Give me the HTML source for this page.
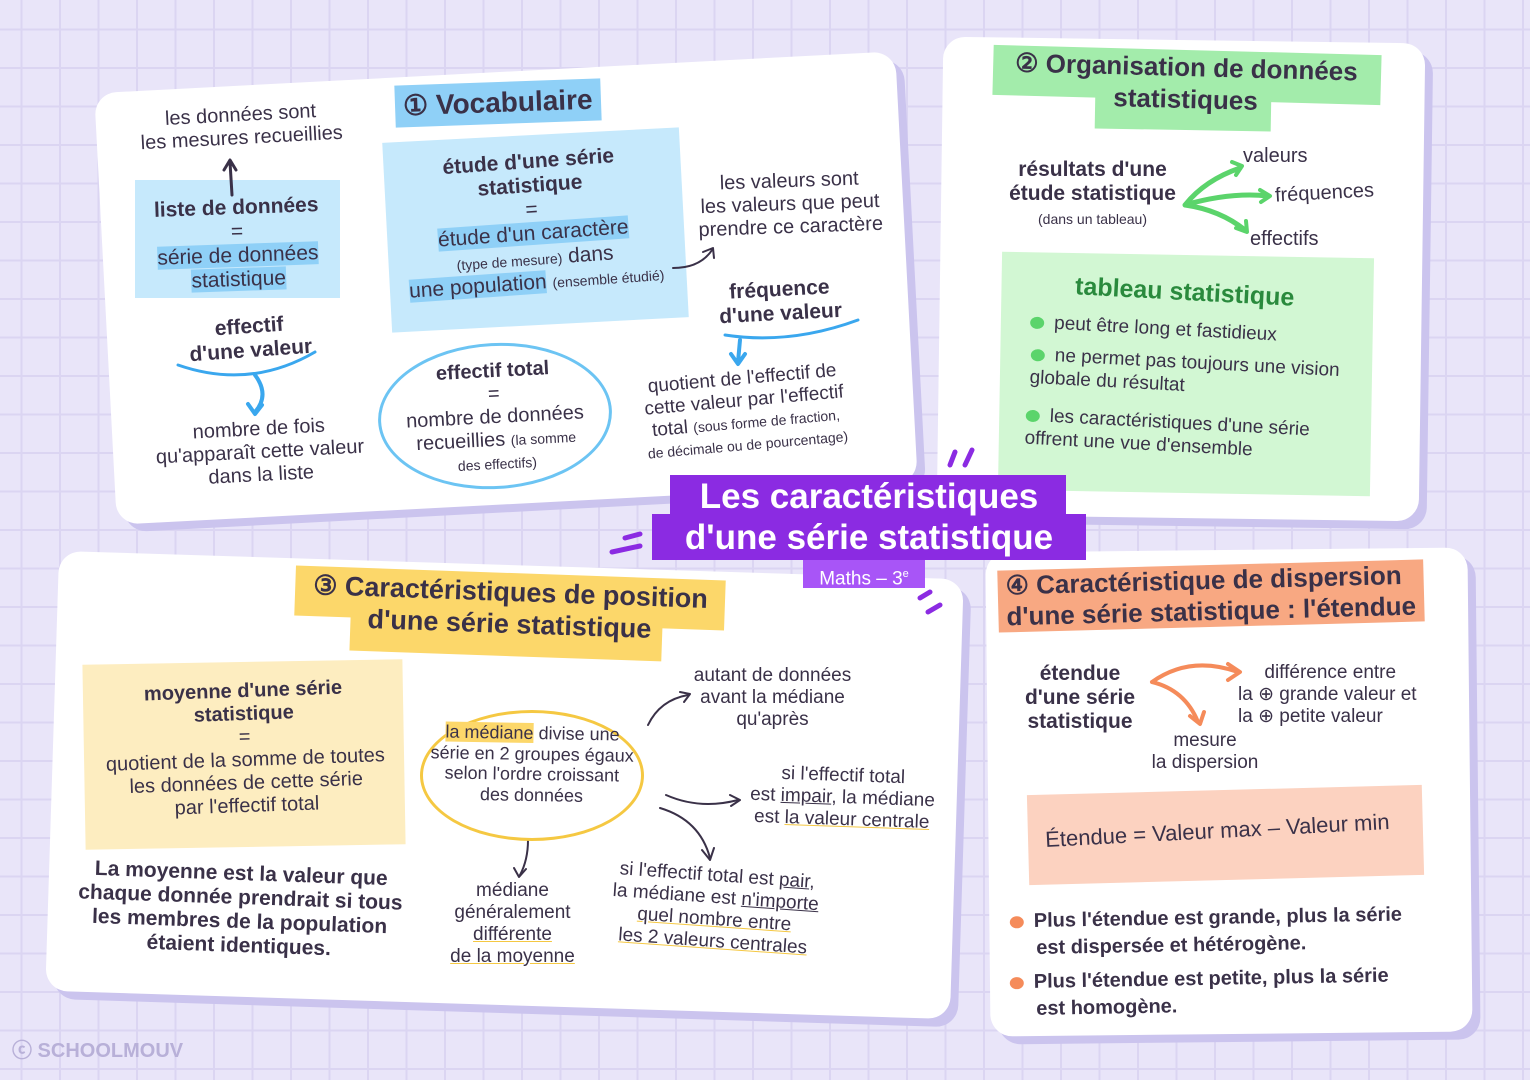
<!DOCTYPE html>
<html><head><meta charset="utf-8"><style>
body{margin:0;width:1530px;height:1080px;overflow:hidden;position:relative;
background-color:#e9e5f9;
background-image:linear-gradient(#dbd5f2 2px,transparent 2px),linear-gradient(90deg,#dbd5f2 2px,transparent 2px);
background-size:38.5px 38.5px;background-position:-18px -10px;
font-family:"Liberation Sans",sans-serif;color:#3a3148}
.card{position:absolute;background:#fff;border-radius:22px;box-shadow:8px 8px 0 #cbc4ee}
.t{position:absolute;text-align:center;white-space:nowrap;line-height:1.15}
.h{font-weight:bold}
.box{position:absolute}
.grid{background-image:linear-gradient(rgba(255,255,255,.5) 1px,transparent 1px),linear-gradient(90deg,rgba(255,255,255,.5) 1px,transparent 1px);background-size:18px 18px}
.pt{display:inline-block;width:14px;height:12px;border-radius:50%;vertical-align:middle;margin-right:10px}
.ttl{position:absolute;font-weight:bold;white-space:nowrap;color:#3a3148;padding:0 8px}
</style></head><body>

<!-- cards -->
<div class="card" style="left:105px;top:72px;width:802px;height:432px;transform:rotate(-3deg)"></div>
<div class="card" style="left:940px;top:40px;width:482px;height:478px;transform:rotate(0.8deg)"></div>
<div class="card" style="left:52px;top:565px;width:905px;height:440px;transform:rotate(1.8deg)"></div>
<div class="card" style="left:988px;top:550px;width:482px;height:484px;transform:rotate(-0.6deg)"></div>

<!-- Card 1 -->
<div class="ttl" style="left:395px;top:82px;background:#8fd0f7;font-size:28px;line-height:42px;transform:rotate(-2deg)">① Vocabulaire</div>
<div class="t" style="left:140px;top:104px;font-size:20px;transform:rotate(-3deg)">les données sont<br>les mesures recueillies</div>
<div class="box grid" style="left:135px;top:180px;width:205px;height:118px;background:#c6e9fc"></div>
<div class="t" style="left:140px;top:196px;width:195px;font-size:21px;transform:rotate(-2deg)"><b>liste de données</b><br>=<br><span style="background:#8fd0f7">série de données<br>statistique</span></div>
<div class="box grid" style="left:387px;top:135px;width:297px;height:190px;background:#c6e9fc;transform:rotate(-3deg)"></div>
<div class="t" style="left:395px;top:150px;width:275px;font-size:21px;transform:rotate(-4deg)"><b>étude d'une série<br>statistique</b><br>=<br><span style="background:#8fd0f7">étude d'un caractère</span><br><span style="font-size:14px">(type de mesure)</span> dans<br><span style="background:#8fd0f7">une population</span> <span style="font-size:14px">(ensemble étudié)</span></div>
<div class="t" style="left:690px;top:170px;width:200px;font-size:20px;transform:rotate(-2deg)">les valeurs sont<br>les valeurs que peut<br>prendre ce caractère</div>
<div class="t h" style="left:170px;top:315px;width:160px;font-size:21px;transform:rotate(-4deg)">effectif<br>d'une valeur</div>
<div class="t" style="left:150px;top:418px;width:220px;font-size:20px;transform:rotate(-3deg)">nombre de fois<br>qu'apparaît cette valeur<br>dans la liste</div>
<div class="box" style="left:378px;top:343px;width:228px;height:140px;border:3px solid #6cc4f3;border-radius:50%;transform:rotate(-3deg)"></div>
<div class="t" style="left:390px;top:360px;width:210px;font-size:20px;transform:rotate(-3deg)"><b>effectif total</b><br>=<br>nombre de données<br>recueillies <span style="font-size:14px">(la somme<br>des effectifs)</span></div>
<div class="t h" style="left:705px;top:278px;width:150px;font-size:21px;transform:rotate(-3deg)">fréquence<br>d'une valeur</div>
<div class="t" style="left:625px;top:368px;width:240px;font-size:19px;transform:rotate(-5deg)">quotient de l'effectif de<br>cette valeur par l'effectif<br>total <span style="font-size:14px">(sous forme de fraction,<br>de décimale ou de pourcentage)</span></div>
<svg class="box" style="left:0;top:0" width="1530" height="1080">
<g fill="none" stroke-width="3" stroke-linecap="round" stroke-linejoin="round">
<path d="M232 195 L230 162 M224 170 L230 160 L236 170" stroke="#3a3148"/>
<path d="M178 365 Q250 390 315 352" stroke="#3aa7ee"/>
<path d="M255 375 Q270 395 255 412 M248 404 L255 414 L262 405" stroke="#3aa7ee" stroke-width="4"/>
<path d="M725 335 Q790 345 858 320" stroke="#3aa7ee"/>
<path d="M740 340 L738 362 M731 354 L738 364 L745 354" stroke="#3aa7ee" stroke-width="4"/>
<path d="M673 268 Q700 268 712 250 M703 252 L713 248 L714 258" stroke="#3a3148" stroke-width="2"/>
<path d="M1185 205 Q1205 180 1240 168 M1185 205 Q1230 192 1268 196 M1185 205 Q1220 210 1245 230" stroke="#5bd46b" stroke-width="5"/>
<path d="M1232 162 L1242 166 L1236 175 M1260 190 L1270 196 L1261 202 M1236 228 L1247 232 L1246 221" stroke="#5bd46b" stroke-width="4"/>
<path d="M1152 682 Q1190 655 1238 672 M1152 682 Q1185 690 1198 722 M1228 664 L1240 672 L1228 680 M1190 716 L1200 724 L1204 712" stroke="#f58b5a" stroke-width="4"/>
<path d="M648 725 Q660 700 688 695 M666 795 Q700 810 738 800 M660 808 Q700 820 710 858 M528 840 Q528 860 520 875" stroke="#3a3148" stroke-width="2"/>
<path d="M680 692 L690 694 L684 702 M730 795 L740 800 L731 806 M702 850 L710 860 L714 848 M514 868 L519 877 L526 869" stroke="#3a3148" stroke-width="2"/>
<path d="M950 465 L955 452 M965 465 L972 450 M612 552 L640 546 M625 538 L640 534 M920 598 L930 592 M928 612 L940 605" stroke="#8b2be2" stroke-width="5"/>
</g></svg>

<!-- Card 2 -->
<div class="box" style="left:993px;top:50px;width:388px;height:50px;background:#a3ecab;transform:rotate(1.5deg)"></div>
<div class="box" style="left:1095px;top:94px;width:176px;height:36px;background:#a3ecab;transform:rotate(1deg)"></div>
<div class="t h" style="left:990px;top:52px;width:392px;font-size:26px;line-height:1.22;transform:rotate(1.5deg)">② Organisation de données<br>statistiques</div>
<div class="t" style="left:995px;top:158px;width:195px;font-size:21px"><b>résultats d'une<br>étude statistique</b><br><span style="font-size:14px">(dans un tableau)</span></div>
<div class="t" style="left:1243px;top:145px;font-size:20px">valeurs</div>
<div class="t" style="left:1275px;top:182px;font-size:20px;transform:rotate(-3deg)">fréquences</div>
<div class="t" style="left:1250px;top:228px;font-size:20px">effectifs</div>
<div class="box grid" style="left:1000px;top:255px;width:372px;height:238px;background:#d2f7d3;transform:rotate(1deg)"></div>
<div class="t h" style="left:1075px;top:278px;font-size:25px;color:#2a8a3d;transform:rotate(3deg)">tableau statistique</div>
<div class="t" style="left:1030px;top:318px;font-size:19px;text-align:left;transform:rotate(3deg);line-height:1.2"><span class="pt" style="background:#5bd46b"></span>peut être long et fastidieux</div>
<div class="t" style="left:1030px;top:352px;font-size:19px;text-align:left;transform:rotate(3deg);line-height:1.2"><span class="pt" style="background:#5bd46b"></span>ne permet pas toujours une vision<br>globale du résultat</div>
<div class="t" style="left:1025px;top:412px;font-size:19px;text-align:left;transform:rotate(3deg);line-height:1.2"><span class="pt" style="background:#5bd46b"></span>les caractéristiques d'une série<br>offrent une vue d'ensemble</div>

<!-- Center -->
<div class="box" style="left:670px;top:475px;width:396px;height:43px;background:#8b2be2"></div>
<div class="box" style="left:652px;top:514px;width:434px;height:46px;background:#8b2be2"></div>
<div class="t h" style="left:652px;top:476px;width:434px;font-size:35px;color:#fff;line-height:41px">Les caractéristiques<br>d'une série statistique</div>
<div class="box" style="left:803px;top:560px;width:122px;height:28px;background:#a855f7;color:#fff;font-size:19px;text-align:center;line-height:28px">Maths – 3<sup style="font-size:11px">e</sup></div>

<!-- Card 3 -->
<div class="box" style="left:295px;top:573px;width:430px;height:50px;background:#fcd76a;transform:rotate(2deg)"></div>
<div class="box" style="left:350px;top:618px;width:312px;height:38px;background:#fcd76a;transform:rotate(2deg)"></div>
<div class="t h" style="left:290px;top:576px;width:440px;font-size:27px;line-height:1.2;transform:rotate(2deg)">③ Caractéristiques de position<br>d'une série statistique</div>
<div class="box grid" style="left:84px;top:662px;width:320px;height:185px;background:#fdedc0;transform:rotate(-1deg)"></div>
<div class="t" style="left:95px;top:680px;width:300px;font-size:20px;transform:rotate(-2deg)"><b>moyenne d'une série<br>statistique</b><br>=<br>quotient de la somme de toutes<br>les données de cette série<br>par l'effectif total</div>
<div class="t h" style="left:60px;top:862px;width:360px;font-size:21px;transform:rotate(2deg)">La moyenne est la valeur que<br>chaque donnée prendrait si tous<br>les membres de la population<br>étaient identiques.</div>
<div class="box" style="left:420px;top:710px;width:218px;height:125px;border:3px solid #f5c842;border-radius:50%"></div>
<div class="t" style="left:425px;top:723px;width:214px;font-size:18px;transform:rotate(1deg)"><span style="background:#fcd76a">la médiane</span> divise une<br>série en 2 groupes égaux<br>selon l'ordre croissant<br>des données</div>
<div class="t" style="left:690px;top:665px;width:165px;font-size:19px">autant de données<br>avant la médiane<br>qu'après</div>
<div class="t" style="left:745px;top:765px;width:195px;font-size:19px;transform:rotate(2deg)">si l'effectif total<br>est <u>impair</u>, la médiane<br>est <u style="text-decoration-color:#f5c842">la valeur centrale</u></div>
<div class="t" style="left:450px;top:880px;width:125px;font-size:19px">médiane<br>généralement<br><u style="text-decoration-color:#f5c842">différente</u><br><u style="text-decoration-color:#f5c842">de la moyenne</u></div>
<div class="t" style="left:600px;top:865px;width:230px;font-size:19px;transform:rotate(4deg)">si l'effectif total est <u>pair</u>,<br>la médiane est <u>n'importe</u><br><u style="text-decoration-color:#f5c842">quel nombre entre</u><br><u style="text-decoration-color:#f5c842">les 2 valeurs centrales</u></div>

<!-- Card 4 -->
<div class="ttl" style="left:998px;top:565px;background:#f8a882;font-size:26px;transform:rotate(-1.5deg);line-height:1.2">④ Caractéristique de dispersion<br>d'une série statistique : l'étendue</div>
<div class="t h" style="left:1020px;top:662px;width:120px;font-size:21px">étendue<br>d'une série<br>statistique</div>
<div class="t" style="left:1238px;top:662px;font-size:19px;text-align:left">&nbsp;&nbsp;&nbsp;&nbsp;&nbsp;différence entre<br>la ⊕ grande valeur et<br>la ⊕ petite valeur</div>
<div class="t" style="left:1145px;top:730px;width:120px;font-size:19px">mesure<br>la dispersion</div>
<div class="box grid" style="left:1028px;top:790px;width:395px;height:90px;background:#fcd2c0;transform:rotate(-1.5deg)"></div>
<div class="t" style="left:1045px;top:818px;font-size:22px;transform:rotate(-3deg)">Étendue = Valeur max – Valeur min</div>
<div class="t h" style="left:1010px;top:905px;font-size:20px;text-align:left;line-height:1.35;transform:rotate(-1deg)"><span class="pt" style="background:#f58b5a"></span>Plus l'étendue est grande, plus la série<br><span style="margin-left:26px">est dispersée et hétérogène.</span></div>
<div class="t h" style="left:1010px;top:966px;font-size:20px;text-align:left;line-height:1.35;transform:rotate(-1deg)"><span class="pt" style="background:#f58b5a"></span>Plus l'étendue est petite, plus la série<br><span style="margin-left:26px">est homogène.</span></div>

<div class="t h" style="left:12px;top:1040px;font-size:20px;color:#b8b0d8">ⓒ SCHOOLMOUV</div>
</body></html>
